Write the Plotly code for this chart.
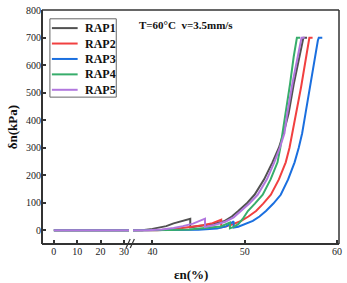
import plotly.graph_objects as go

# ---- data ----
series_names = ["RAP1", "RAP2", "RAP3", "RAP4", "RAP5"]
series_colors = ["#515151", "#F14040", "#1A6FDF", "#37AD6B", "#B177DE"]

# low-strain segment (left of axis break)
strain_low = [0, 8, 16, 24, 32.2]
stress_low = [0, 0, 0, 0, 0]

# high-strain segment (right of axis break)
rap1_x = [37.9, 38.9, 40, 41.5, 42.3, 43.2, 44.1, 44.1, 45.5, 46.7, 47.85, 48.6, 49.3, 50.2, 51.06, 52.1, 53.0, 53.7, 54.2, 54.75, 55.3, 55.9, 56.25, 56.35, 56.75]
rap1_y = [0, 0, 5, 15, 25, 33, 42, 11, 17, 24, 34, 50, 70, 97, 129, 185, 247, 300, 353, 424, 530, 630, 690, 700, 700]

rap2_x = [37.9, 40.5, 42, 44, 45.5, 46.5, 47.45, 47.45, 48.0, 48.7, 49.63, 50.4, 51.23, 52.0, 52.83, 53.7, 54.44, 54.85, 55.15, 55.6, 56.1, 56.6, 56.9, 57.0, 57.35]
rap2_y = [0, 0, 3, 10, 18, 26, 38, 11, 14, 22, 34, 50, 70, 97, 129, 185, 247, 300, 353, 424, 520, 620, 690, 700, 700]

rap3_x = [37.9, 40, 43, 45, 47, 48.0, 48.8, 48.8, 49.3, 49.9, 50.88, 51.6, 52.3, 53.1, 53.9, 54.7, 55.4, 55.85, 56.22, 56.58, 57.1, 57.6, 57.92, 58.02, 58.4]
rap3_y = [0, 0, 1, 2, 6, 14, 32, 10, 13, 20, 34, 50, 70, 97, 129, 185, 247, 300, 353, 424, 530, 630, 690, 700, 700]

rap4_x = [37.9, 40, 42, 44, 46, 47.4, 48.4, 48.4, 48.8, 49.3, 49.8, 50.34, 51.1, 51.95, 52.8, 53.55, 53.85, 54.1, 54.44, 54.9, 55.3, 55.55, 55.65, 56.0]
rap4_y = [0, 0, 1, 3, 8, 14, 28, 7, 12, 22, 42, 70, 97, 129, 185, 247, 300, 353, 424, 530, 630, 690, 700, 700]

rap5_x = [37.9, 39.5, 41, 42.3, 43.3, 44.4, 45.7, 45.7, 46.8, 47.9, 48.8, 49.6, 50.5, 51.4, 52.4, 53.2, 53.8, 54.3, 54.6, 55.2, 55.7, 56.05, 56.15, 56.5]
rap5_y = [0, 0, 3, 8, 15, 24, 42, 12, 20, 31, 47, 70, 97, 129, 185, 247, 300, 353, 424, 540, 630, 690, 700, 700]

high_x = [rap1_x, rap2_x, rap3_x, rap4_x, rap5_x]
high_y = [rap1_y, rap2_y, rap3_y, rap4_y, rap5_y]

x_ticks_low = [0, 10, 20, 30]
x_ticks_high = [40, 50, 60]
y_ticks = [0, 100, 200, 300, 400, 500, 600, 700, 800]

# ---- figure ----
FONT = "Liberation Serif"
AX = "#333333"
W, H = 347, 283
ML, MR, MT, MB = 42, 5, 5, 39
PW, PH = W - ML - MR, H - MT - MB


def px(x):
    return (x - ML) / PW


def py(y):
    return (H - MB - y) / PH


fig = go.Figure()

for name, col, hx, hy in zip(series_names, series_colors, high_x, high_y):
    fig.add_trace(go.Scatter(x=strain_low, y=stress_low, mode="lines", name=name,
                             line=dict(color=col, width=2), xaxis="x", yaxis="y",
                             showlegend=False))
    fig.add_trace(go.Scatter(x=hx, y=hy, mode="lines", name=name,
                             line=dict(color=col, width=2), xaxis="x2", yaxis="y",
                             showlegend=False))

xcommon = dict(showgrid=False, zeroline=False, showline=False, ticks="inside",
               ticklen=4, tickwidth=1.5, tickcolor=AX,
               tickfont=dict(family=FONT, size=10, color="#222"))

fig.update_layout(
    width=W, height=H,
    margin=dict(l=ML, r=MR, t=MT, b=MB),
    paper_bgcolor="white", plot_bgcolor="white",
    xaxis=dict(domain=[0, 0.2933], range=[-5.08, 32.2], tickvals=x_ticks_low,
               anchor="y", **xcommon),
    xaxis2=dict(domain=[0.3033, 1], range=[37.8, 60.21], tickvals=x_ticks_high,
                anchor="y", **xcommon),
    yaxis=dict(range=[-50, 801], tickvals=y_ticks, showgrid=False, zeroline=False,
               showline=False, ticks="inside", ticklen=4, tickwidth=1.5, tickcolor=AX,
               ticklabeloverflow="allow",
               tickfont=dict(family=FONT, size=10, color="#222")),
    showlegend=False,
)

# frame and axis lines
fig.add_shape(type="line", xref="paper", yref="paper", x0=0, x1=1, y0=0, y1=0,
              line=dict(color=AX, width=2), layer="above")
fig.add_shape(type="line", xref="paper", yref="paper", x0=0, x1=0, y0=0, y1=1,
              line=dict(color=AX, width=2), layer="above")
fig.add_shape(type="line", xref="paper", yref="paper", x0=0, x1=1, y0=1, y1=1,
              line=dict(color=AX, width=1.5), layer="above")
fig.add_shape(type="line", xref="paper", yref="paper", x0=1, x1=1, y0=0, y1=1,
              line=dict(color=AX, width=1.5), layer="above")
# axis break marks
for x0 in (0.283, 0.297):
    fig.add_shape(type="line", xref="paper", yref="paper", x0=x0, x1=x0 + 0.014,
                  y0=-0.017, y1=0.021, line=dict(color=AX, width=1.2), layer="above")

# legend box (compact, as in the original)
fig.add_shape(type="rect", xref="paper", yref="paper", x0=px(50), x1=px(117),
              y0=py(94), y1=py(14), line=dict(color="#666", width=1),
              fillcolor="white", layer="above")
for i, (name, col) in enumerate(zip(series_names, series_colors)):
    yc = 23.5 + 15.75 * i
    fig.add_shape(type="line", xref="paper", yref="paper", x0=px(52), x1=px(78),
                  y0=py(yc), y1=py(yc), line=dict(color=col, width=2), layer="above")
    fig.add_annotation(text="<b>%s</b>" % name, xref="paper", yref="paper",
                       x=px(83), y=py(yc), xanchor="left", yanchor="middle",
                       showarrow=False, font=dict(family=FONT, size=12, color="#111"))

fig.add_annotation(text="<b>T=60°C  v=3.5mm/s</b>", xref="paper", yref="paper",
                   x=0.32, y=0.937, xanchor="left", yanchor="middle", showarrow=False,
                   font=dict(family=FONT, size=11, color="#111"))
fig.add_annotation(text="<b>εn(%)</b>", xref="paper", yref="paper",
                   x=0.5, y=-0.13, xanchor="center", yanchor="middle", showarrow=False,
                   font=dict(family=FONT, size=13, color="#111"))
fig.add_annotation(text="<b>δn(kPa)</b>", xref="paper", yref="paper",
                   x=-0.1, y=0.5, xanchor="center", yanchor="middle", showarrow=False,
                   textangle=-90, font=dict(family=FONT, size=13, color="#111"))

fig.write_html("out.html", config={"displayModeBar": False},
               post_script="document.body.style.margin='0';document.body.style.overflow='hidden';")
